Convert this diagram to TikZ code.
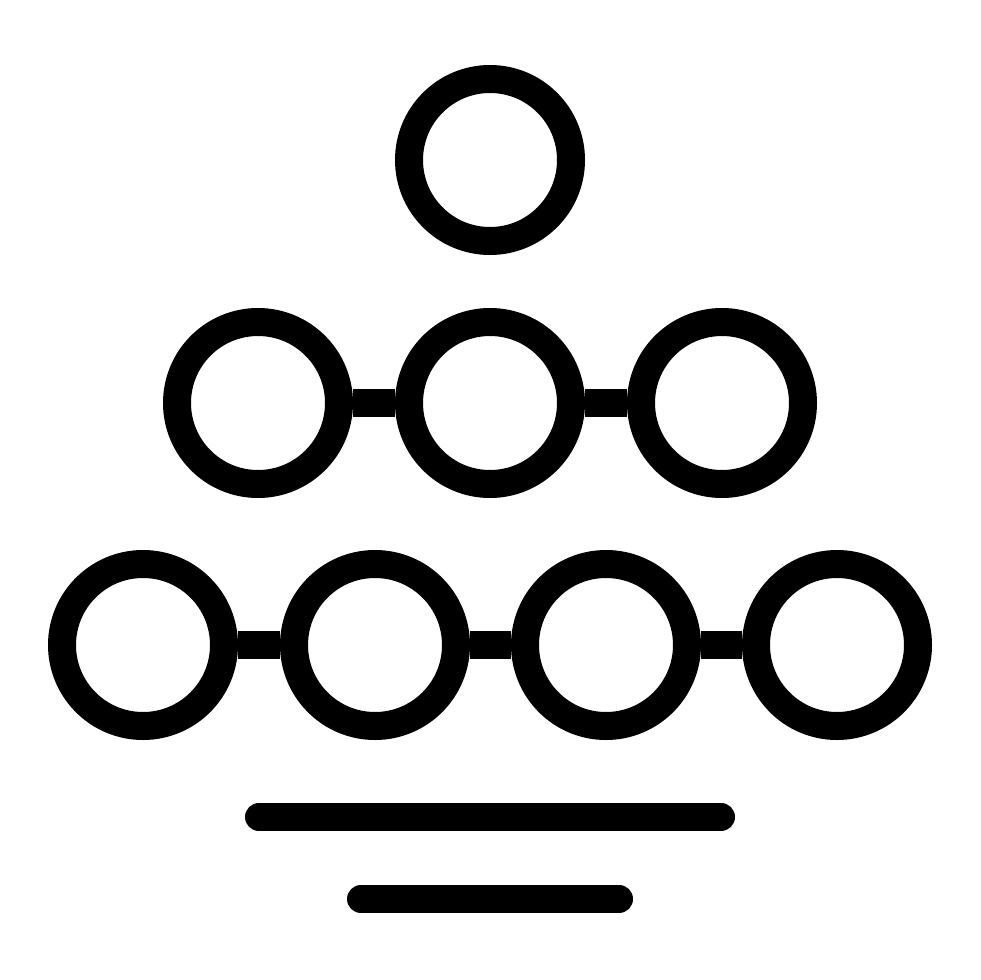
\documentclass[tikz,border=0pt]{standalone}
\begin{document}
\begin{tikzpicture}[x=1pt,y=-1pt,
  ring/.style={circle,draw=black,line width=28pt,minimum size=162pt,inner sep=0pt},
  link/.style={draw=black,line width=28pt},
  bar/.style={draw=black,line width=28pt,line cap=round}]
\useasboundingbox (0,0) rectangle (980,980);
\node[ring] (t) at (490,160) {};
\node[ring] (a1) at (258,403) {};
\node[ring] (a2) at (490,403) {};
\node[ring] (a3) at (722,403) {};
\node[ring] (b1) at (143,645) {};
\node[ring] (b2) at (375,645) {};
\node[ring] (b3) at (606,645) {};
\node[ring] (b4) at (837,645) {};
\draw[link] (a1.east) -- (a2.west);
\draw[link] (a2.east) -- (a3.west);
\draw[link] (b1.east) -- (b2.west);
\draw[link] (b2.east) -- (b3.west);
\draw[link] (b3.east) -- (b4.west);
\coordinate (l1a) at (259,817);
\coordinate (l1b) at (721,817);
\coordinate (l2a) at (361,899);
\coordinate (l2b) at (619,899);
\draw[bar] (l1a) -- (l1b);
\draw[bar] (l2a) -- (l2b);
\end{tikzpicture}
\end{document}
